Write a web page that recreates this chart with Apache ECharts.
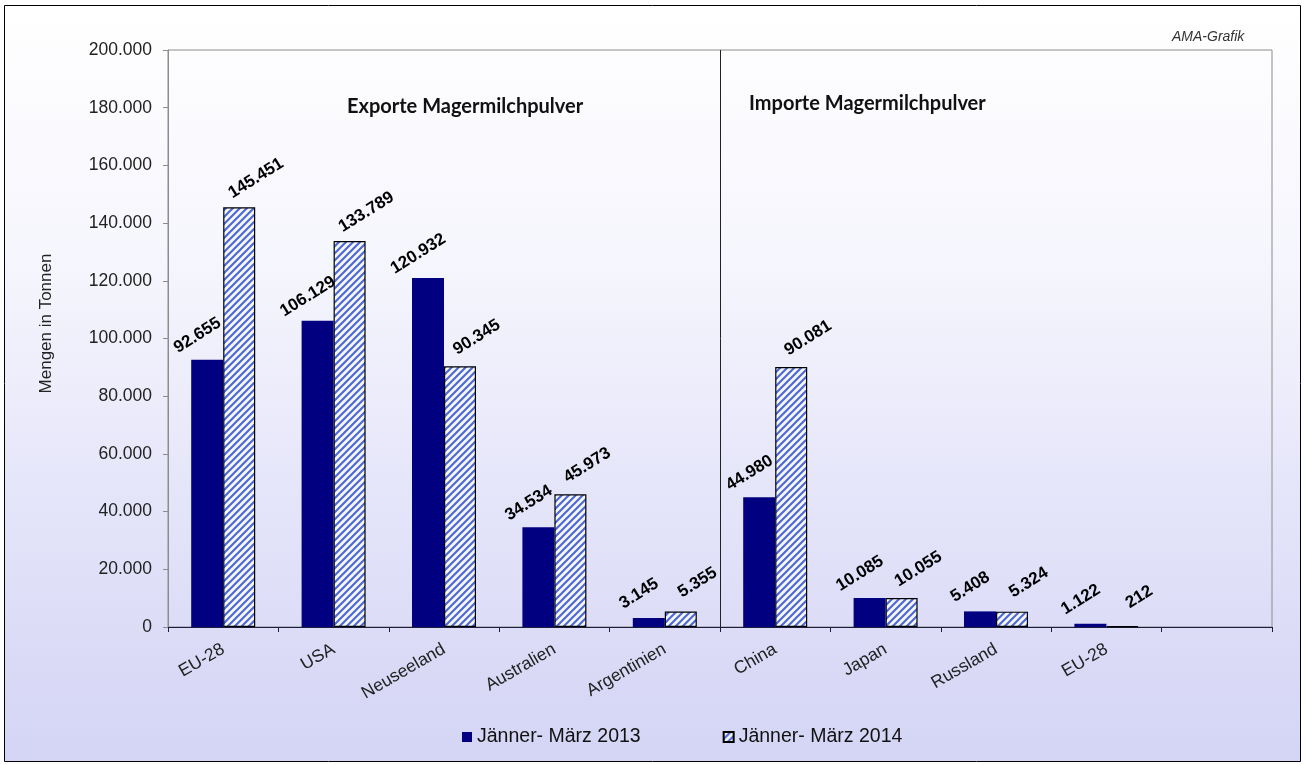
<!DOCTYPE html>
<html>
<head>
<meta charset="utf-8">
<script src="https://cdn.jsdelivr.net/npm/echarts@6/dist/echarts.min.js"></script>
<style>
html,body{margin:0;padding:0;background:#fff;}
#chart{width:1305px;height:765px;}
</style>
</head>
<body>
<div id="chart"></div>
<script>
// ---- data ----
const categories = ['EU-28', 'USA', 'Neuseeland', 'Australien', 'Argentinien', 'China', 'Japan', 'Russland', 'EU-28', ''];
const seriesNames = ['Jänner- März 2013', 'Jänner- März 2014'];
const values2013 = [92655, 106129, 120932, 34534, 3145, 44980, 10085, 5408, 1122, null];
const values2014 = [145451, 133789, 90345, 45973, 5355, 90081, 10055, 5324, 212, null];
const yMin = 0, yMax = 200000, yStep = 20000;
const axisName = 'Mengen in Tonnen';
const panelTitles = ['Exporte Magermilchpulver', 'Importe Magermilchpulver'];
const sourceNote = 'AMA-Grafik';
const separatorIndex = 5; // boundary between exports and imports

// ---- helpers ----
function fmt(v) {
  if (v === null || v === undefined) return '';
  const s = String(Math.round(v));
  return s.replace(/\B(?=(\d{3})+(?!\d))/g, '.');
}
function makeHatch() {
  const n = 7;
  const c = document.createElement('canvas');
  c.width = n; c.height = n;
  const g = c.getContext('2d');
  g.fillStyle = '#f6f8ea';
  g.fillRect(0, 0, n, n);
  g.strokeStyle = '#4f68de';
  g.lineWidth = 2.2;
  g.beginPath();
  g.moveTo(-1, n + 1); g.lineTo(n + 1, -1);
  g.moveTo(-1, 1); g.lineTo(1, -1);
  g.moveTo(n - 1, n + 1); g.lineTo(n + 1, n - 1);
  g.stroke();
  return c;
}

const FONT = 'Arial, "Liberation Sans", sans-serif';
const TFONT = 'Lato, "Open Sans", sans-serif';
const chart = echarts.init(document.getElementById('chart'), null, {renderer: 'canvas'});

const labelStyle = {fontFamily: FONT, fontWeight: 'bold', fontSize: 17, color: '#000',
                    formatter: function (p) { return fmt(p.value); }};

const option = {
  animation: false,
  backgroundColor: '#ffffff',
  graphic: [{
    type: 'rect', z: -10, silent: true,
    shape: {x: 4.5, y: 5.5, width: 1296, height: 756},
    style: {
      fill: {type: 'linear', x: 0, y: 0, x2: 0, y2: 1, colorStops: [
        {offset: 0, color: '#ffffff'}, {offset: 0.35, color: '#f5f5fd'},
        {offset: 0.7, color: '#e2e2f9'}, {offset: 1, color: '#d4d4f5'}]},
      stroke: '#000', lineWidth: 1
    }
  }],
  title: [
    {text: panelTitles[0], left: 342, top: 92,
     textStyle: {fontFamily: TFONT, fontWeight: 'bold', fontSize: 20, color: '#111'}},
    {text: panelTitles[1], left: 744, top: 89,
     textStyle: {fontFamily: TFONT, fontWeight: 'bold', fontSize: 20, color: '#111'}},
    {text: sourceNote, left: 1167, top: 25,
     textStyle: {fontFamily: FONT, fontStyle: 'italic', fontWeight: 'normal', fontSize: 14, color: '#333'}}
  ],
  legend: {
    data: seriesNames, left: 457, top: 722,
    itemWidth: 10, itemHeight: 10, itemGap: 82, icon: 'rect',
    textStyle: {fontFamily: FONT, fontSize: 19.5, color: '#111'}
  },
  grid: {left: 168, right: 33, top: 50, bottom: 138, show: true,
         borderColor: '#8c8c8c', borderWidth: 1, backgroundColor: 'transparent'},
  xAxis: [{
    type: 'category', data: categories, boundaryGap: true,
    axisLine: {show: true, lineStyle: {color: '#1c1c3c', width: 1}},
    axisTick: {show: true, length: 5, lineStyle: {color: '#1c1c3c'}},
    axisLabel: {interval: 0, rotate: 30, margin: 21, fontFamily: FONT, fontSize: 17.5, color: '#222'},
    splitLine: {show: false}
  }, {
    // helper axis spanning the category slots, used only to place the separator line
    type: 'value', min: 0, max: categories.length, show: false
  }],
  yAxis: {
    type: 'value', min: yMin, max: yMax, interval: yStep,
    name: axisName, nameLocation: 'middle', nameRotate: 90, nameGap: 113,
    nameTextStyle: {fontFamily: FONT, fontSize: 17, color: '#222', padding: [0, 0, 0, 30]},
    axisLine: {show: true, lineStyle: {color: '#8c8c8c'}},
    axisTick: {show: true, length: 5, lineStyle: {color: '#8c8c8c'}},
    axisLabel: {margin: 16, fontFamily: FONT, fontSize: 17.5, color: '#222',
                formatter: function (v) { return fmt(v); }},
    splitLine: {show: false}
  },
  series: [
    {
      name: seriesNames[0], type: 'bar', data: values2013,
      barWidth: 32, barGap: '0%',
      itemStyle: {color: '#000080'},
      label: Object.assign({show: true, position: 'top', rotate: 32, offset: [2, -13]}, labelStyle)
    },
    {
      name: seriesNames[1], type: 'bar', data: values2014,
      barWidth: 32, barGap: '0%',
      itemStyle: {color: {image: makeHatch(), repeat: 'repeat'}, borderColor: '#000', borderWidth: 1.2},
      label: Object.assign({show: true, position: 'top', rotate: 32, offset: [27, -3]}, labelStyle)
    },
    {
      name: 'separator', type: 'line', xAxisIndex: 1, yAxisIndex: 0, data: [],
      silent: true, legendHoverLink: false,
      markLine: {silent: true, symbol: ['none', 'none'], label: {show: false},
                 lineStyle: {color: '#222', width: 1, type: 'solid'},
                 data: [{xAxis: separatorIndex}]}
    }
  ]
};
chart.setOption(option);
</script>
</body>
</html>
